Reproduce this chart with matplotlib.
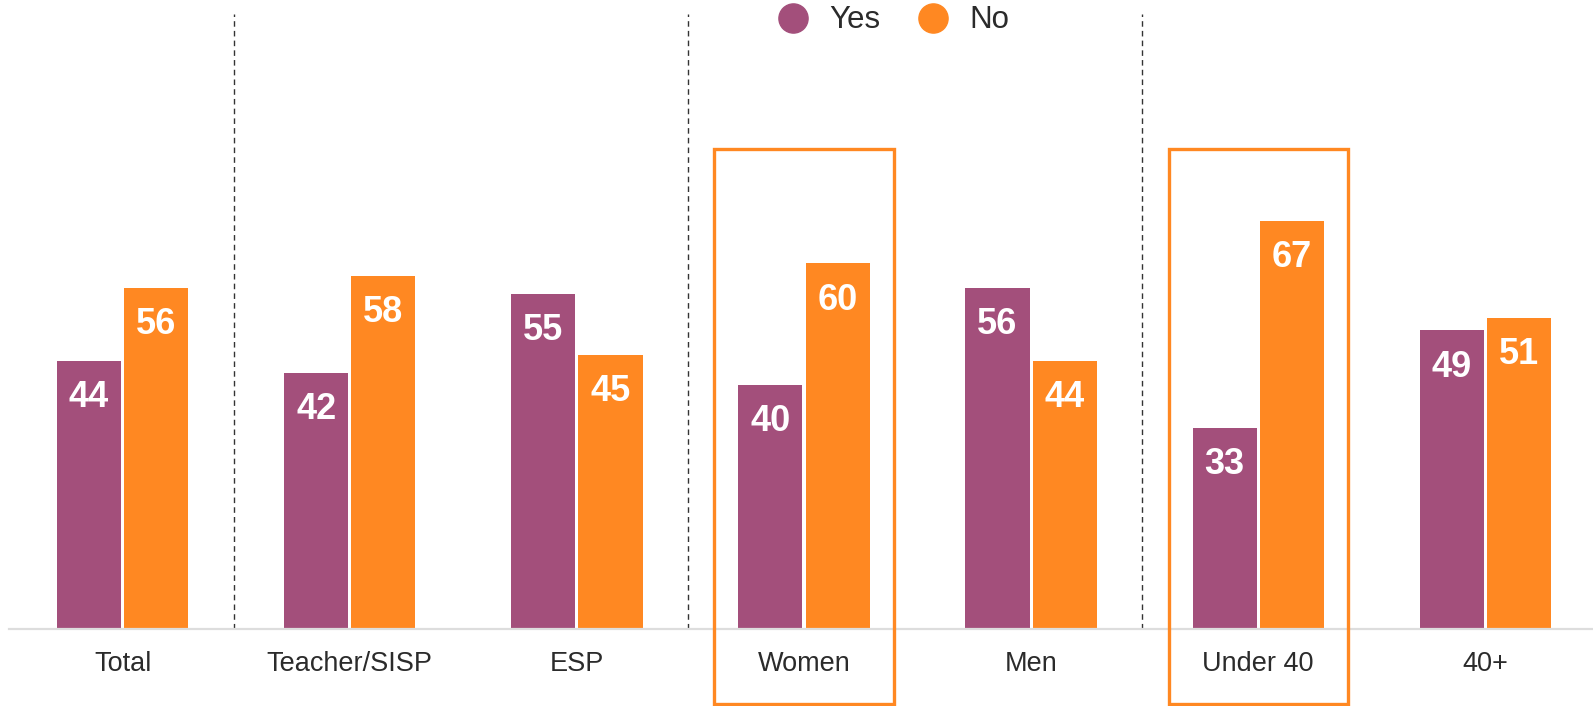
import numpy as np
import matplotlib.pyplot as plt
from matplotlib.patches import Rectangle
from matplotlib.lines import Line2D

plt.rcParams['font.family'] = ['Liberation Sans', 'DejaVu Sans']

groups = ['Total', 'Teacher/SISP', 'ESP', 'Women', 'Men', 'Under 40', '40+']
yes = [44, 42, 55, 40, 56, 33, 49]
no = [56, 58, 45, 60, 44, 67, 51]
highlight = ['Women', 'Under 40']
separators_after = [0, 2, 4]

purple = '#A34F7B'
orange = '#FF8822'
text_col = '#2b2b2b'

fig = plt.figure(figsize=(15.93, 7.06), dpi=100)
ax = fig.add_axes([0.0057, 0.109, 0.998, 0.863])

x = np.arange(len(groups))
w = 0.282
off = 0.148
b1 = ax.bar(x - off, yes, w, color=purple, label='Yes')
b2 = ax.bar(x + off, no, w, color=orange, label='No')

for bars in (b1, b2):
    for b in bars:
        h = b.get_height()
        ax.text(b.get_x() + b.get_width() / 2, h - 6.0, f'{h:.0f}',
                ha='center', va='center', color='white',
                fontsize=26, fontweight='bold')

ax.set_xlim(-0.5, 6.5)
ax.set_ylim(0, 100)

for i in separators_after:
    ax.axvline(i + 0.49, ymin=0, ymax=1.01, color='#333333', lw=1,
               ls=(0, (4, 3)), clip_on=False)

for g in highlight:
    i = groups.index(g)
    ax.add_patch(Rectangle((i - 0.395, -12.3), 0.79, 91.1, fill=False,
                           edgecolor=orange, lw=2.4, clip_on=False, zorder=5))

ax.set_xticks(x)
ax.set_xticklabels(groups, fontsize=19.5, color=text_col)
ax.tick_params(axis='x', length=0, pad=16)
ax.set_yticks([])
for s in ['top', 'right', 'left']:
    ax.spines[s].set_visible(False)
ax.spines['bottom'].set_color('#dddddd')
ax.spines['bottom'].set_linewidth(1.6)

handles = [Line2D([], [], marker='o', ls='', color=purple, markersize=21),
           Line2D([], [], marker='o', ls='', color=orange, markersize=21)]
fig.legend(handles, ['Yes', 'No'], loc='center', bbox_to_anchor=(0.556, 0.971),
           ncol=2, frameon=False, fontsize=22.5, handletextpad=0.15,
           columnspacing=0.7, labelcolor=text_col)

fig.savefig('out.png', dpi=100)
